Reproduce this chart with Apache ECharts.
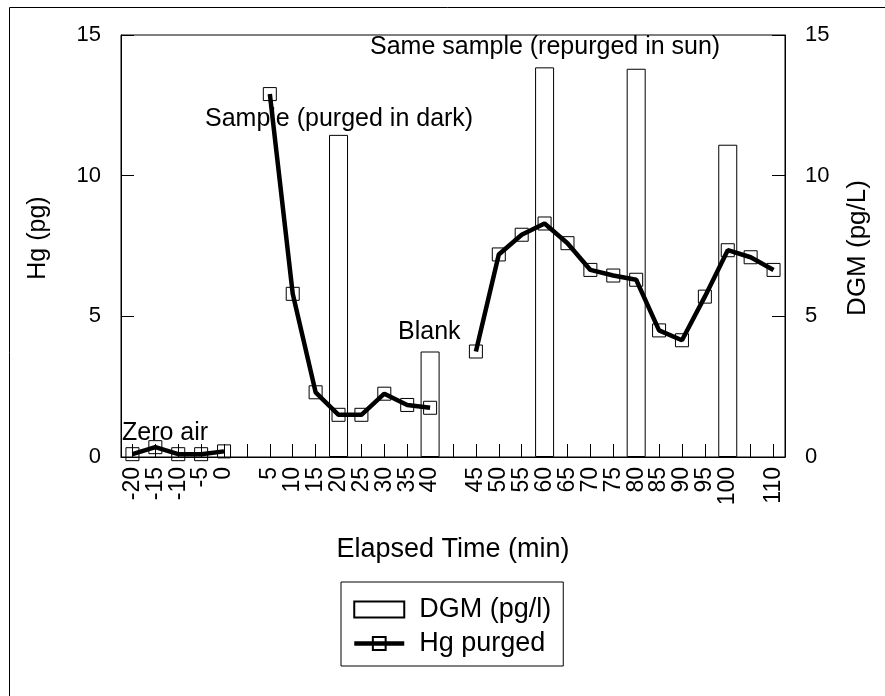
<!DOCTYPE html>
<html>
<head>
<meta charset="utf-8">
<script src="https://cdn.jsdelivr.net/npm/echarts@6/dist/echarts.min.js"></script>
<style>
  html, body { margin: 0; padding: 0; background: #fff; }
  #chart { width: 885px; height: 696px; }
</style>
</head>
<body>
<div id="chart"></div>
<script>
// Elapsed-time categories; blank entries separate the three purge runs
const timeLabels = ['-20', '-15', '-10', '-5', '0', '',
  '5', '10', '15', '20', '25', '30', '35', '40', '',
  '45', '50', '55', '60', '65', '70', '75', '80', '85', '90', '95', '100', '', '110'];

// Hg purged per interval (pg), left axis
const hgPurged = [0.1, 0.35, 0.1, 0.1, 0.2, null,
  12.9, 5.8, 2.3, 1.5, 1.5, 2.25, 1.85, 1.75, null,
  3.75, 7.2, 7.9, 8.3, 7.6, 6.65, 6.45, 6.3, 4.5, 4.15, 5.7, 7.35, 7.1, 6.65];

// Dissolved gaseous mercury (pg/L), right axis
const dgm = [null, null, null, null, null, null,
  null, null, null, 11.45, null, null, null, 3.75, null,
  null, null, null, 13.85, null, null, null, 13.8, null, null, null, 11.1, null, null];

const yTicks = { min: 0, max: 15, interval: 5 };

const FONT = '"Liberation Sans", Arial, Helvetica, sans-serif';

const chart = echarts.init(document.getElementById('chart'), null, { renderer: 'canvas' });

const axisCommon = {
  type: 'value',
  min: yTicks.min,
  max: yTicks.max,
  interval: yTicks.interval,
  splitLine: { show: false },
  axisLine: { show: true, lineStyle: { color: '#000', width: 1 } },
  axisTick: { show: true, inside: true, length: 13, lineStyle: { color: '#000', width: 1 } },
  axisLabel: { color: '#000', fontSize: 22, fontFamily: FONT, margin: 20 }
};

function label(text, x, y, size, extra) {
  return Object.assign({
    type: 'text',
    x: x, y: y,
    silent: true,
    style: {
      text: text,
      fill: '#000',
      font: size + 'px ' + FONT,
      align: 'left',
      verticalAlign: 'middle'
    }
  }, extra || {});
}

function title(text, x, y, size, rotation) {
  const el = label(text, x, y, size, { rotation: rotation || 0 });
  el.style.align = 'center';
  return el;
}

chart.setOption({
  animation: false,
  backgroundColor: '#fff',
  grid: {
    left: 121, right: 100, top: 35, bottom: 239,
    show: true, borderColor: '#000', borderWidth: 1,
    outerBoundsMode: 'none'
  },
  xAxis: {
    type: 'category',
    data: timeLabels,
    boundaryGap: true,
    axisLine: { show: true, lineStyle: { color: '#000', width: 1 } },
    axisTick: { show: true, inside: true, length: 13, alignWithLabel: true, interval: 0,
      lineStyle: { color: '#000', width: 1 } },
    axisLabel: { interval: 0, rotate: 90, color: '#000', fontSize: 23, fontFamily: FONT, margin: 10 },
    splitLine: { show: false }
  },
  yAxis: [
    Object.assign({}, axisCommon, { position: 'left' }),
    Object.assign({}, axisCommon, { position: 'right' })
  ],
  legend: {
    orient: 'vertical',
    left: 341,
    top: 582,
    padding: [14, 12, 9, 11],
    itemGap: 7,
    itemWidth: 50,
    itemHeight: 16,
    borderColor: '#000',
    borderWidth: 1,
    backgroundColor: '#fff',
    lineStyle: { width: 4.5 },
    textStyle: { color: '#000', fontSize: 27, fontFamily: FONT, padding: [0, 0, 0, 10] },
    data: [
      { name: 'DGM (pg/l)', icon: 'rect' },
      { name: 'Hg purged' }
    ]
  },
  series: [
    {
      name: 'DGM (pg/l)',
      type: 'bar',
      yAxisIndex: 1,
      data: dgm,
      barWidth: 19,
      itemStyle: { color: '#fff', borderColor: '#000', borderWidth: 1 },
      z: 1
    },
    {
      name: 'Hg purged',
      type: 'line',
      yAxisIndex: 0,
      data: hgPurged,
      connectNulls: false,
      symbol: 'rect',
      symbolSize: 13,
      showAllSymbol: true,
      lineStyle: { color: '#000', width: 4.5 },
      itemStyle: { color: 'rgba(255,255,255,0)', borderColor: '#000', borderWidth: 1 },
      z: 3
    }
  ],
  graphic: [
    // outer frame
    { type: 'rect', shape: { x: 9.5, y: 7.5, width: 900, height: 720 },
      style: { fill: 'none', stroke: '#000', lineWidth: 1 }, silent: true },
    // axis titles
    title('Elapsed Time (min)', 453, 550, 27),
    title('Hg (pg)', 38, 238, 25, Math.PI / 2),
    title('DGM (pg/L)', 858, 248, 26, Math.PI / 2),
    // run annotations
    label('Zero air', 122, 433, 25),
    label('Sample (purged in dark)', 205, 119, 25),
    label('Blank', 398, 332, 25),
    label('Same sample (repurged in sun)', 370, 47, 25)
  ]
});
</script>
</body>
</html>
